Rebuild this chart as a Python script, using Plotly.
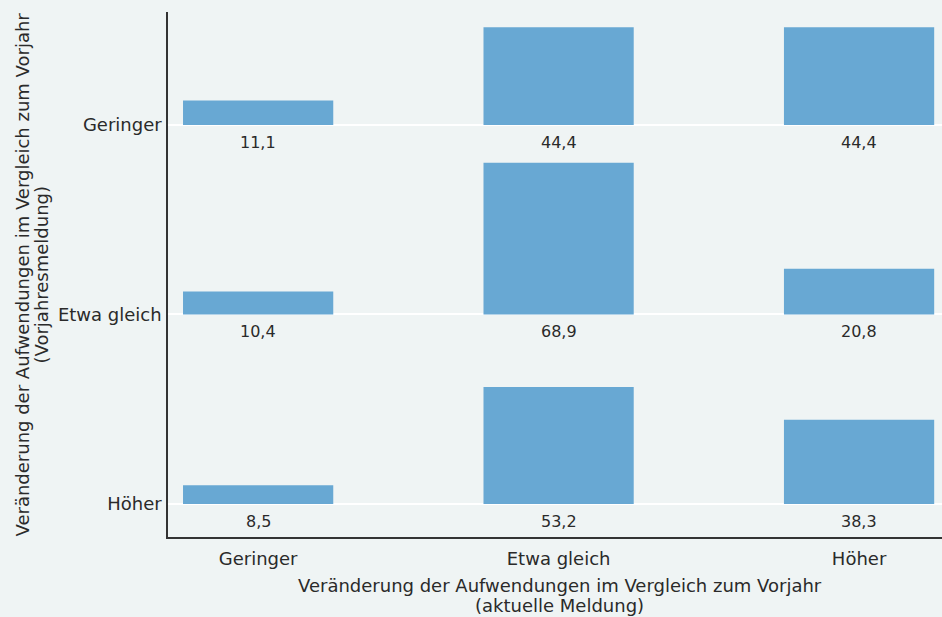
import plotly.graph_objects as go

# Aktuelle Meldung (x) je Vorjahresmeldung (Zeile), Anteile in %
x_categories = ["Geringer", "Etwa gleich", "Höher"]
row_categories = ["Höher", "Etwa gleich", "Geringer"]  # von unten nach oben

shares = {
    "Geringer": [11.1, 44.4, 44.4],
    "Etwa gleich": [10.4, 68.9, 20.8],
    "Höher": [8.5, 53.2, 38.3],
}

x_title = ["Veränderung der Aufwendungen im Vergleich zum Vorjahr", "(aktuelle Meldung)"]
y_title = ["Veränderung der Aufwendungen im Vergleich zum Vorjahr", "(Vorjahresmeldung)"]

bg = "#eff4f4"
bar_color = "#68a8d3"
text_color = "#2a2a2a"
family = "Century Gothic, DejaVu Sans, sans-serif"
font = dict(family=family, size=18, color=text_color)
value_font = dict(family=family, size=16, color=text_color)

# Balkenhöhe: größter Anteil füllt 80 % des Zeilenabstands
max_share = max(v for vals in shares.values() for v in vals)
scale = 0.8 / max_share

fig = go.Figure()

for i, row in enumerate(row_categories):
    vals = shares[row]
    fig.add_trace(
        go.Bar(
            x=list(range(len(x_categories))),
            y=[v * scale for v in vals],
            base=i,
            width=0.5,
            marker_color=bar_color,
            marker_line_width=0,
            hovertext=[f"{v:.1f}".replace(".", ",") for v in vals],
            showlegend=False,
        )
    )
    # Wert-Beschriftung unter den Balken
    for j, v in enumerate(vals):
        fig.add_annotation(
            x=j, y=i, text=f"{v:.1f}".replace(".", ","),
            showarrow=False, yanchor="top", yshift=-6,
            font=value_font,
        )

# Achsentitel als Annotationen (genaue Lage), Zeilen einzeln
for k, line in enumerate(x_title):
    fig.add_annotation(
        xref="paper", yref="paper", x=0.506, y=-(48 + 20 * k) / 525,
        text=line, showarrow=False, xanchor="center", yanchor="middle",
        font=font,
    )
for k, line in enumerate(y_title):
    fig.add_annotation(
        xref="paper", yref="paper", x=-(146 - 19 * k) / 774, y=0.5, textangle=-90,
        text=line, showarrow=False, xanchor="center", yanchor="middle",
        font=font,
    )

fig.update_layout(
    width=942, height=617,
    paper_bgcolor=bg, plot_bgcolor=bg,
    margin=dict(l=168, r=0, t=12, b=80),
    font=font,
    barmode="overlay",
    xaxis=dict(
        tickmode="array",
        tickvals=list(range(len(x_categories))),
        ticktext=x_categories,
        range=[-0.3, 2.276],
        showgrid=False, zeroline=False,
        showline=True, linecolor="#333333", linewidth=1.5,
        ticks="outside", ticklen=5, tickcolor=bg,
    ),
    yaxis=dict(
        tickmode="array",
        tickvals=list(range(len(row_categories))),
        ticktext=row_categories,
        range=[-0.174, 2.596],
        showgrid=True, gridcolor="white", gridwidth=2,
        zeroline=False,
        showline=True, linecolor="#333333", linewidth=1.5,
        ticks="outside", ticklen=1, tickcolor=bg,
    ),
)

fig.write_html(
    "out.html",
    config={"displayModeBar": False},
    post_script="document.body.style.margin='0';",
)
